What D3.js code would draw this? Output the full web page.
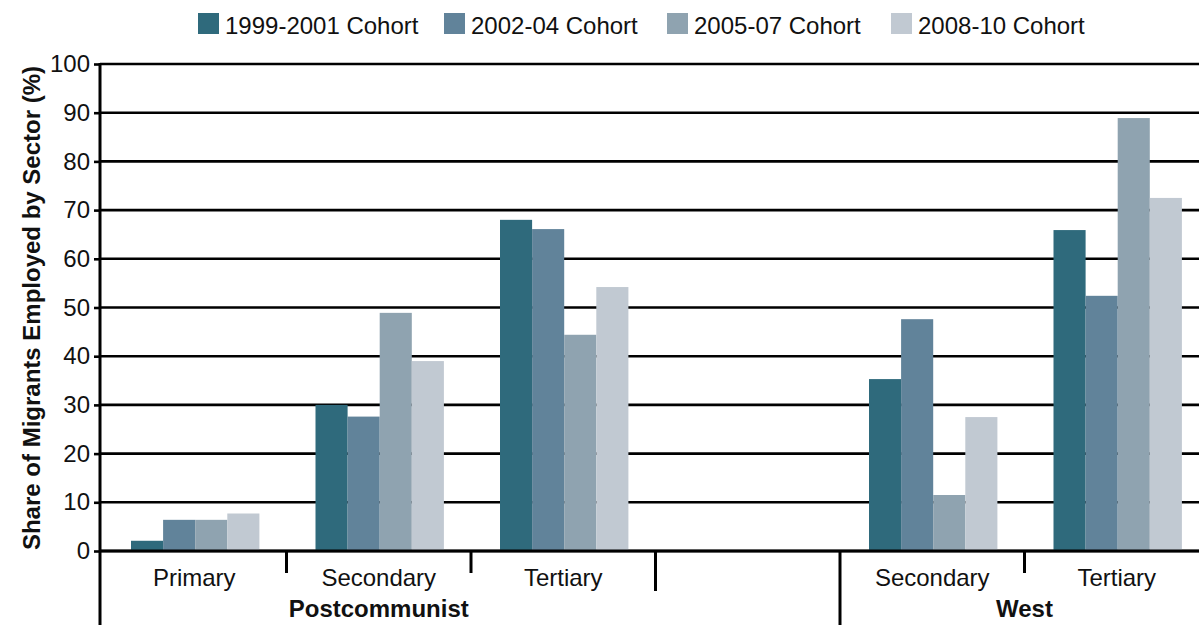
<!DOCTYPE html>
<html>
<head>
<meta charset="utf-8">
<script src="https://cdn.jsdelivr.net/npm/d3@7"></script>
<style>
  body { margin: 0; background: #fff; }
  svg { display: block; font-family: "Liberation Sans", Arial, sans-serif; }
</style>
</head>
<body>
<svg id="chart" width="1199" height="625"></svg>
<script>
// chart values
const cohorts = ["1999-2001 Cohort", "2002-04 Cohort", "2005-07 Cohort", "2008-10 Cohort"];
const colors = ["#2f6a7c", "#61839a", "#8fa3b0", "#c1c9d2"];
const categoryKeys = ["pc-primary", "pc-secondary", "pc-tertiary", "pc-gap", "w-secondary", "w-tertiary"];
const categoryLabels = ["Primary", "Secondary", "Tertiary", "", "Secondary", "Tertiary"];
const groupLabels = ["Postcommunist", "West"];
const cohort1999 = [2.1, 30.0, 68.0, null, 35.3, 65.9];
const cohort2002 = [6.4, 27.6, 66.1, null, 47.6, 52.4];
const cohort2005 = [6.4, 48.9, 44.4, null, 11.5, 88.9];
const cohort2008 = [7.7, 39.0, 54.2, null, 27.5, 72.5];
const yTicks = [0, 10, 20, 30, 40, 50, 60, 70, 80, 90, 100];

const series = [cohort1999, cohort2002, cohort2005, cohort2008];

const svg = d3.select('#chart');
const width = 1199, height = 625;

// scales
const y = d3.scaleLinear().domain([0, 100]).range([551, 64]);
const x0 = d3.scaleBand().domain(categoryKeys).range([102, 1209]);
const x1 = d3.scaleBand().domain(cohorts).range([29, 157.4]);

// gridlines
svg.append('g')
  .selectAll('line')
  .data(yTicks)
  .enter().append('line')
  .attr('x1', 100).attr('x2', width)
  .attr('y1', d => y(d)).attr('y2', d => y(d))
  .attr('stroke', '#000').attr('stroke-width', 2.6);

// bars
const rows = [];
categoryKeys.forEach((k, i) => {
  series.forEach((s, j) => {
    if (s[i] != null) rows.push({ key: k, cohort: cohorts[j], value: s[i], color: colors[j] });
  });
});

svg.append('g')
  .selectAll('rect')
  .data(rows)
  .enter().append('rect')
  .attr('x', d => x0(d.key) + x1(d.cohort))
  .attr('width', x1.bandwidth())
  .attr('y', d => y(d.value))
  .attr('height', d => y(0) - y(d.value))
  .attr('fill', d => d.color);

// y axis
const yAxis = svg.append('g')
  .attr('transform', 'translate(100,0)')
  .call(d3.axisLeft(y).tickValues(yTicks).tickSize(6).tickPadding(4).tickSizeOuter(0));
yAxis.select('.domain').remove();
yAxis.selectAll('line').attr('stroke', '#000').attr('stroke-width', 2.6);
yAxis.selectAll('text').attr('font-size', 24).attr('fill', '#111').attr('font-family', '"Liberation Sans", Arial, sans-serif');

svg.append('line')
  .attr('x1', 100).attr('x2', 100)
  .attr('y1', y(100) - 1).attr('y2', height)
  .attr('stroke', '#000').attr('stroke-width', 3);

// zero line on top of bars
svg.append('line')
  .attr('x1', 100).attr('x2', width)
  .attr('y1', y(0)).attr('y2', y(0))
  .attr('stroke', '#000').attr('stroke-width', 3);

// category separators: short, short, medium, group divider, short
const sepEnds = [573, 573, 591, 625, 573];
categoryKeys.slice(1).forEach((k, i) => {
  svg.append('line')
    .attr('x1', x0(k)).attr('x2', x0(k))
    .attr('y1', y(0)).attr('y2', sepEnds[i])
    .attr('stroke', '#000').attr('stroke-width', 3);
});

// category labels
svg.append('g')
  .selectAll('text')
  .data(categoryKeys)
  .enter().append('text')
  .attr('x', d => x0(d) + x0.bandwidth() / 2)
  .attr('y', 586)
  .attr('text-anchor', 'middle')
  .attr('font-size', 24)
  .attr('fill', '#111')
  .text((d, i) => categoryLabels[i]);

// group labels
const groupSpans = [[x0('pc-primary'), x0('pc-gap')], [x0('w-secondary'), x0.range()[1]]];
svg.append('g')
  .selectAll('text')
  .data(groupLabels)
  .enter().append('text')
  .attr('x', (d, i) => (groupSpans[i][0] + groupSpans[i][1]) / 2)
  .attr('y', 617)
  .attr('text-anchor', 'middle')
  .attr('font-size', 24)
  .attr('font-weight', 'bold')
  .attr('fill', '#111')
  .text(d => d);

// y axis title
svg.append('text')
  .attr('transform', 'translate(40,308) rotate(-90)')
  .attr('text-anchor', 'middle')
  .attr('font-size', 24)
  .attr('font-weight', 'bold')
  .attr('fill', '#111')
  .text('Share of Migrants Employed by Sector (%)');

// legend
const legendX = [198, 444, 667, 891];
const legend = svg.append('g')
  .selectAll('g')
  .data(cohorts)
  .enter().append('g')
  .attr('transform', (d, i) => `translate(${legendX[i]},13)`);
legend.append('rect')
  .attr('width', 21).attr('height', 21)
  .attr('fill', (d, i) => colors[i]);
legend.append('text')
  .attr('x', 27).attr('y', 20.5)
  .attr('font-size', 24)
  .attr('fill', '#111')
  .text(d => d);
</script>
</body>
</html>
